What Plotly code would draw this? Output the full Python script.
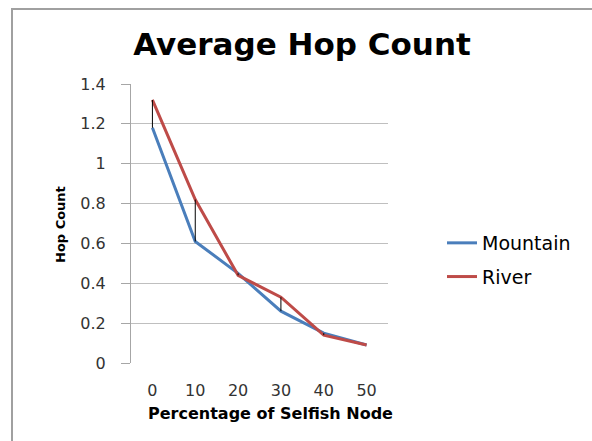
import plotly.graph_objects as go

categories = ["0", "10", "20", "30", "40", "50"]
mountain = [1.18, 0.61, 0.45, 0.26, 0.15, 0.09]
river = [1.32, 0.82, 0.44, 0.33, 0.14, 0.09]
y_ticks = [0, 0.2, 0.4, 0.6, 0.8, 1, 1.2, 1.4]

W, H = 592, 441
L, R, T, B = 131, 204, 84, 78
pw, ph = W - L - R, H - T - B

def px_x(x):
    return (x - L) / pw

def px_y(y):
    return (H - B - y) / ph

fig = go.Figure()
fig.add_trace(go.Scatter(x=categories, y=mountain, name="Mountain", mode="lines",
                         line=dict(color="#4A7EBB", width=3), legendgroup="m"))
fig.add_trace(go.Scatter(x=categories, y=river, name="River", mode="lines",
                         line=dict(color="#BE4B48", width=3), legendgroup="r"))

hx, hy = [], []
for c, a, b in zip(categories, mountain, river):
    hx += [c, c, None]
    hy += [min(a, b), max(a, b), None]
fig.add_trace(go.Scatter(x=hx, y=hy, mode="lines", showlegend=False,
                         line=dict(color="black", width=1), hoverinfo="skip"))

fig.update_layout(
    width=W, height=H,
    margin=dict(l=L, r=R, t=T, b=B),
    paper_bgcolor="white", plot_bgcolor="white",
    font=dict(family="DejaVu Sans", color="black"),
    title=dict(text="<b>Average Hop Count</b>", font=dict(size=31, family="DejaVu Sans"),
               x=302 / W, xref="container", xanchor="center",
               y=1 - 44 / H, yref="container", yanchor="middle"),
    legend=dict(x=px_x(442), xanchor="left", y=px_y(260), yanchor="middle",
                font=dict(size=19), tracegroupgap=6, bgcolor="rgba(0,0,0,0)"),
    showlegend=True,
)
fig.update_xaxes(type="category", range=[-0.5, 5.5], showgrid=False,
                 showline=False, zeroline=False,
                 ticks="outside", ticklen=13, tickcolor="rgba(0,0,0,0)",
                 tickfont=dict(size=16, color="#333333"))
fig.update_yaxes(range=[0, 1.4], tickvals=y_ticks, showgrid=True, gridcolor="#BFBFBF",
                 gridwidth=1, showline=True, linecolor="#A6A6A6", linewidth=1,
                 zeroline=False, ticks="outside", ticklen=9, tickcolor="#A6A6A6",
                 ticklabelstandoff=12,
                 tickfont=dict(size=16, color="#333333"))

fig.add_annotation(text="<b>Percentage of Selfish Node</b>", xref="paper", yref="paper",
                   x=px_x(270), y=px_y(413), xanchor="center", yanchor="middle",
                   showarrow=False, font=dict(size=16))
fig.add_annotation(text="<b>Hop Count</b>", xref="paper", yref="paper",
                   x=px_x(60), y=px_y(225), xanchor="center", yanchor="middle",
                   textangle=-90, showarrow=False, font=dict(size=13))

fig.add_shape(type="rect", xref="paper", yref="paper",
              x0=px_x(12), x1=px_x(620), y0=px_y(470), y1=px_y(9),
              line=dict(color="#A0A0A0", width=2), layer="below")

fig.write_html("out.html")
